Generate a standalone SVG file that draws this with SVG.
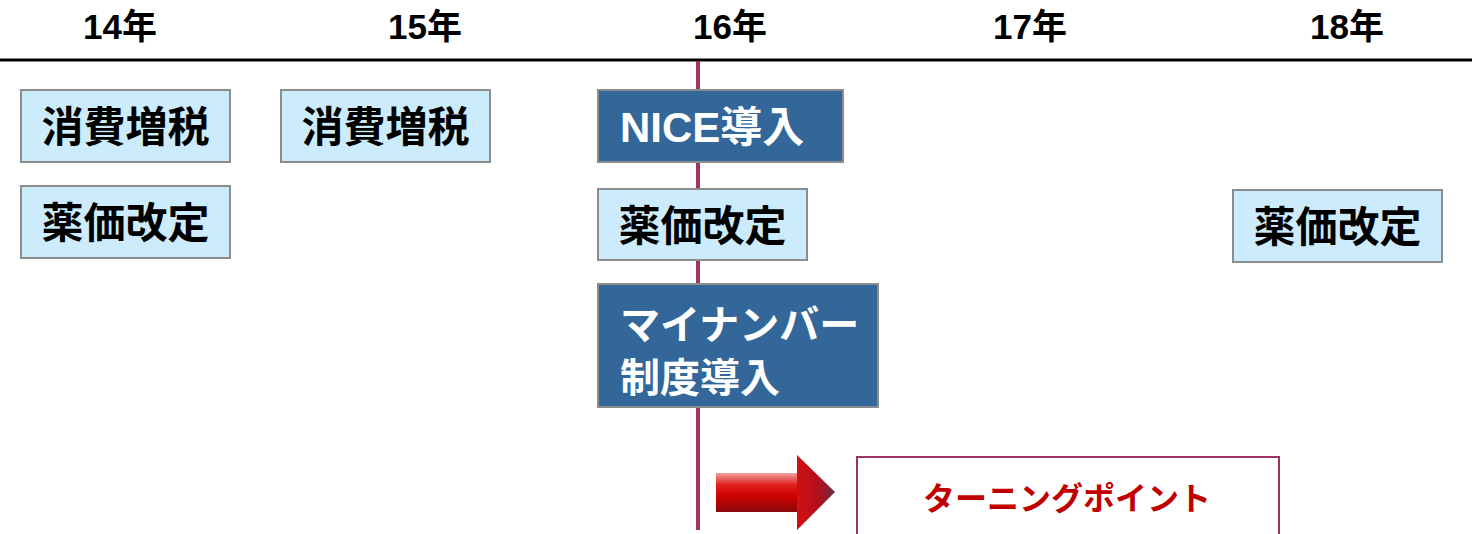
<svg xmlns="http://www.w3.org/2000/svg" width="1472" height="534" viewBox="0 0 1472 534">
<style>
.yr{font-family:"Liberation Sans","Noto Sans CJK JP",sans-serif;font-weight:bold;font-size:35px;fill:#000;text-anchor:middle}
.lb{fill:#CCEBFD;stroke:#8C8C8C;stroke-width:2}
.dk{fill:#336699;stroke:#8C8C8C;stroke-width:2}
.t{font-family:"Liberation Sans","Noto Sans CJK JP",sans-serif;font-weight:bold;font-size:42px;fill:#000;text-anchor:middle}
.tw{font-family:"Liberation Sans","Noto Sans CJK JP",sans-serif;font-weight:bold;font-size:42px;fill:#fff}
.tm{font-size:40px}
.tr{font-family:"Liberation Sans","Noto Sans CJK JP",sans-serif;font-weight:bold;font-size:32px;fill:#C00000;text-anchor:middle}
</style>
<defs>
<linearGradient id="ag" x1="0" y1="0" x2="0" y2="1">
<stop offset="0" stop-color="#F4A0A0"/>
<stop offset="0.3" stop-color="#E02020"/>
<stop offset="0.6" stop-color="#CC0000"/>
<stop offset="1" stop-color="#8A0A0A"/>
</linearGradient>
<linearGradient id="hg" x1="0" y1="0" x2="1" y2="0">
<stop offset="0" stop-color="#D01010"/>
<stop offset="0.6" stop-color="#B01020"/>
<stop offset="1" stop-color="#603040"/>
</linearGradient>
</defs>
<rect width="1472" height="534" fill="#fff"/>
<g id="years">
<text class="yr" x="120" y="39">14年</text>
<text class="yr" x="425" y="39">15年</text>
<text class="yr" x="730" y="39">16年</text>
<text class="yr" x="1030" y="39">17年</text>
<text class="yr" x="1347" y="39">18年</text>
</g>
<g id="connectors">
<line x1="0" y1="60" x2="1472" y2="60" stroke="#000" stroke-width="3"/>
<line x1="698" y1="61" x2="698" y2="530" stroke="#9E3366" stroke-width="4"/>
</g>
<g id="n1"><rect class="lb" x="21" y="90" width="209" height="72"/><text class="t" x="125.5" y="142">消費増税</text></g>
<g id="n2"><rect class="lb" x="281" y="90" width="209" height="72"/><text class="t" x="385.5" y="142">消費増税</text></g>
<g id="n3"><rect class="lb" x="21" y="186" width="209" height="72"/><text class="t" x="125.5" y="238">薬価改定</text></g>
<g id="n4"><rect class="dk" x="598" y="90" width="245" height="72"/><text class="tw" x="620" y="142">NICE導入</text></g>
<g id="n5"><rect class="lb" x="598" y="189" width="209" height="71"/><text class="t" x="702.5" y="241">薬価改定</text></g>
<g id="n6"><rect class="dk" x="598" y="284" width="280" height="123"/><text class="tw tm" x="620" y="339">マイナンバー</text><text class="tw tm" x="620" y="392">制度導入</text></g>
<g id="n7"><rect class="lb" x="1233" y="190" width="209" height="72"/><text class="t" x="1337.5" y="242">薬価改定</text></g>
<g id="arrow">
<rect x="716" y="473" width="82" height="39" fill="url(#ag)"/>
<polygon points="797,455 835,492 797,530" fill="url(#hg)"/>
</g>
<g id="n8"><rect x="857" y="457" width="422" height="90" fill="#fff" stroke="#9E3366" stroke-width="2"/><text class="tr" x="1067" y="510">ターニングポイント</text></g>
</svg>
